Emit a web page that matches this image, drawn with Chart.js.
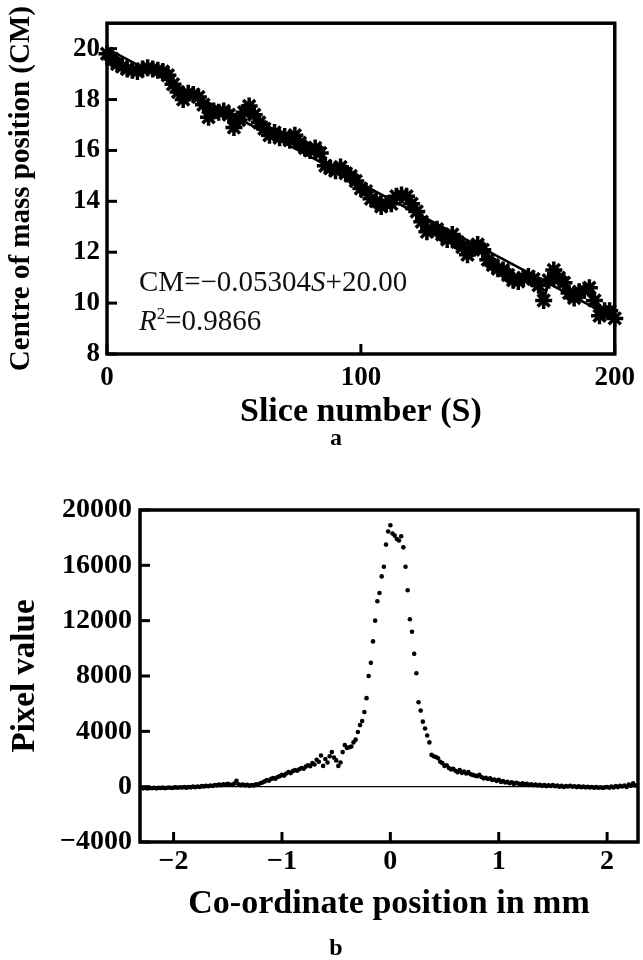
<!DOCTYPE html>
<html>
<head>
<meta charset="utf-8">
<script src="https://cdn.jsdelivr.net/npm/chart.js@4.4.1/dist/chart.umd.min.js"></script>
<style>
  html, body { margin: 0; padding: 0; background: #fff; }
  #page { position: relative; width: 643px; height: 960px; overflow: hidden; font-family: "Liberation Serif", "Times New Roman", serif; color: #000; }
  canvas { position: absolute; left: 0; }
  #chartA { top: 0; }
  #chartB { top: 480px; }
  .panel-label { position: absolute; width: 40px; margin-left: -20px; text-align: center; font-weight: bold; font-size: 24px; line-height: 24px; }
  .fit-text { position: absolute; left: 139px; font-size: 29px; line-height: 29px; white-space: nowrap; color: #111; }
  .fit-text sup { font-size: 17px; line-height: 0; vertical-align: 11px; }
</style>
</head>
<body>
<div id="page">
  <canvas id="chartA" width="643" height="480"></canvas>
  <canvas id="chartB" width="643" height="480"></canvas>
  <div class="fit-text" style="top:267px">CM=−0.05304<i>S</i>+20.00</div>
  <div class="fit-text" style="top:306px"><i>R</i><sup>2</sup>=0.9866</div>
  <div class="panel-label" style="left:336px; top:425px">a</div>
  <div class="panel-label" style="left:336px; top:935px">b</div>
</div>
<script>
// ---- panel a: centre of mass vs slice ----
const sliceNumbers = [
  0, 2, 4, 6, 8, 10, 12, 14, 16, 18,
  20, 22, 24, 26, 28, 30, 32, 34, 36, 38,
  40, 42, 44, 46, 48, 50, 52, 54, 56, 58,
  60, 62, 64, 66, 68, 70, 72, 74, 76, 78,
  80, 82, 84, 86, 88, 90, 92, 94, 96, 98,
  100, 102, 104, 106, 108, 110, 112, 114, 116, 118,
  120, 122, 124, 126, 128, 130, 132, 134, 136, 138,
  140, 142, 144, 146, 148, 150, 152, 154, 156, 158,
  160, 162, 164, 166, 168, 170, 172, 174, 176, 178,
  180, 182, 184, 186, 188, 190, 192, 194, 196, 198,
  200
];
const cmPosition = [
  19.8, 19.6, 19.4, 19.3, 19.2, 19.15, 19.1, 19.2, 19.25, 19.2,
  19.15, 19.1, 18.95, 18.6, 18.3, 18.0, 18.25, 18.2, 18.1, 17.8,
  17.3, 17.55, 17.5, 17.55, 17.4, 16.9, 17.2, 17.5, 17.75, 17.4,
  17.1, 16.85, 16.6, 16.7, 16.5, 16.55, 16.4, 16.6, 16.3, 16.1,
  16.0, 16.1, 15.9, 15.4, 15.3, 15.2, 15.35, 15.1, 15.0, 14.8,
  14.5, 14.4, 14.1, 14.0, 13.8, 13.9, 13.9, 14.2, 14.25, 14.2,
  13.9, 13.6, 13.2, 12.8, 12.9, 12.9, 12.7, 12.5, 12.7, 12.4,
  12.2, 11.9, 12.15, 12.3, 12.1, 11.7, 11.5, 11.35, 11.3, 11.1,
  10.9, 10.85, 11.0, 11.05, 10.95, 10.7, 10.1, 10.9, 11.3, 11.0,
  10.8, 10.4, 10.2, 10.45, 10.5, 10.6, 10.1, 9.5, 9.7, 9.7,
  9.4
];
const fitSlope = -0.05304;
const fitIntercept = 20.00;
const sliceTicks = [0, 100, 200];
const cmTicks = [8, 10, 12, 14, 16, 18, 20];

// ---- panel b: pixel profile ----
const positionMm = [
  -2.28, -2.26, -2.24, -2.22, -2.20, -2.18, -2.16, -2.14, -2.12, -2.10,
  -2.08, -2.06, -2.04, -2.02, -2.00, -1.98, -1.96, -1.94, -1.92, -1.90,
  -1.88, -1.86, -1.84, -1.82, -1.80, -1.78, -1.76, -1.74, -1.72, -1.70,
  -1.68, -1.66, -1.64, -1.62, -1.60, -1.58, -1.56, -1.54, -1.52, -1.50,
  -1.48, -1.46, -1.44, -1.42, -1.40, -1.38, -1.36, -1.34, -1.32, -1.30,
  -1.28, -1.26, -1.24, -1.22, -1.20, -1.18, -1.16, -1.14, -1.12, -1.10,
  -1.08, -1.06, -1.04, -1.02, -1.00, -0.98, -0.96, -0.94, -0.92, -0.90,
  -0.88, -0.86, -0.84, -0.82, -0.80, -0.78, -0.76, -0.74, -0.72, -0.70,
  -0.68, -0.66, -0.64, -0.62, -0.60, -0.58, -0.56, -0.54, -0.52, -0.50,
  -0.48, -0.46, -0.44, -0.42, -0.40, -0.38, -0.36, -0.34, -0.32, -0.30,
  -0.28, -0.26, -0.24, -0.22, -0.20, -0.18, -0.16, -0.14, -0.12, -0.10,
  -0.08, -0.06, -0.04, -0.02,
  0.00, 0.02, 0.04, 0.06, 0.08, 0.10, 0.12, 0.14, 0.16, 0.18,
  0.20, 0.22, 0.24, 0.26, 0.28, 0.30, 0.32, 0.34, 0.36, 0.38,
  0.40, 0.42, 0.44, 0.46, 0.48, 0.50, 0.52, 0.54, 0.56, 0.58,
  0.60, 0.62, 0.64, 0.66, 0.68, 0.70, 0.72, 0.74, 0.76, 0.78,
  0.80, 0.82, 0.84, 0.86, 0.88, 0.90, 0.92, 0.94, 0.96, 0.98,
  1.00, 1.02, 1.04, 1.06, 1.08, 1.10, 1.12, 1.14, 1.16, 1.18,
  1.20, 1.22, 1.24, 1.26, 1.28, 1.30, 1.32, 1.34, 1.36, 1.38,
  1.40, 1.42, 1.44, 1.46, 1.48, 1.50, 1.52, 1.54, 1.56, 1.58,
  1.60, 1.62, 1.64, 1.66, 1.68, 1.70, 1.72, 1.74, 1.76, 1.78,
  1.80, 1.82, 1.84, 1.86, 1.88, 1.90, 1.92, 1.94, 1.96, 1.98,
  2.00, 2.02, 2.04, 2.06, 2.08, 2.10, 2.12, 2.14, 2.16, 2.18,
  2.20, 2.22, 2.24, 2.26
];
const pixelValue = [
  -120, -100, -130, -90, -110, -80, -120, -90, -100, -70,
  -110, -80, -60, -100, -70, -50, -80, -40, -60, -30,
  -70, -20, -50, 0, -40, 10, -20, 40, 20, 60,
  30, 80, 50, 120, 90, 150, 110, 180, 130, 200,
  150, 120, 220, 420, 180, 110, 160, 90, 130, 60,
  120, 90, 180, 150, 250, 300, 380, 470, 430, 560,
  620, 580, 700, 760, 850, 800, 950, 1050, 980, 1120,
  1200, 1150, 1260, 1350, 1300, 1450, 1550, 1480, 1700, 1600,
  1950, 1800, 2250, 1500, 2000, 1750, 2200, 2500, 2100, 1900,
  1500, 1750, 2500, 3000, 2800, 2850, 2900, 3200, 3400, 3950,
  4450, 4750, 5400, 6400, 8000, 8950, 10500, 12000, 13400, 14000,
  15200, 15900, 17500, 18450,
  18900, 18300, 18150, 17900, 17800, 18100, 17300, 15900, 14200, 12100,
  11200, 9600, 8200, 6100, 5500, 4700, 4200, 3700, 3200, 2300,
  2200, 2150, 2050, 1800, 1700, 1500, 1550, 1350, 1250, 1300,
  1150, 1050, 1200, 1000, 1100, 950, 1050, 900, 850, 800,
  750, 850, 700, 600, 650, 550, 600, 480, 520, 420,
  500, 350, 400, 300, 350, 250, 320, 200, 280, 220,
  170, 240, 150, 200, 120, 180, 100, 150, 80, 130,
  60, 110, 40, 90, 50, 120, 30, 80, 0, 60,
  -20, 40, 10, 70, -10, 30, -30, 20, -40, 0,
  -50, -10, -60, -20, -70, -30, -80, -40, -90, -50,
  -20, -80, 0, -60, 40, -30, 60, 10, 80, -20,
  150, 60, 250, 80
];
const positionTicks = [-2, -1, 0, 1, 2];
const pixelTicks = [-4000, 0, 4000, 8000, 12000, 16000, 20000];

const serif = '"Liberation Serif", "Times New Roman", serif';
const minus = v => String(v).replace('-', '\u2212');

// box frame, inward tick marks and optional zero line
const framePlugin = {
  id: 'frame',
  beforeDatasetsDraw(chart, args, opts) {
    if (!opts.zeroLine) return;
    const {ctx, chartArea: a, scales} = chart;
    const y0 = scales.y.getPixelForValue(0);
    ctx.save();
    ctx.strokeStyle = '#000';
    ctx.lineWidth = 1.3;
    ctx.beginPath();
    ctx.moveTo(a.left, y0);
    ctx.lineTo(a.right, y0);
    ctx.stroke();
    ctx.restore();
  },
  afterDatasetsDraw(chart, args, opts) {
    const {ctx, chartArea: a, scales} = chart;
    const len = opts.tickLength || 10;
    ctx.save();
    ctx.strokeStyle = '#000';
    ctx.lineWidth = 3.5;
    ctx.strokeRect(a.left, a.top, a.right - a.left, a.bottom - a.top);
    ctx.lineWidth = 3;
    scales.x.ticks.forEach(t => {
      const x = scales.x.getPixelForValue(t.value);
      ctx.beginPath();
      ctx.moveTo(x, a.bottom);
      ctx.lineTo(x, a.bottom - len);
      ctx.stroke();
    });
    scales.y.ticks.forEach(t => {
      const y = scales.y.getPixelForValue(t.value);
      ctx.beginPath();
      ctx.moveTo(a.left, y);
      ctx.lineTo(a.left + len, y);
      ctx.stroke();
    });
    ctx.restore();
  }
};

const hidden = { display: false, drawTicks: false };

new Chart(document.getElementById('chartA'), {
  type: 'scatter',
  data: {
    datasets: [{
      data: sliceNumbers.map((s, i) => ({ x: s, y: cmPosition[i] })),
      showLine: true,
      borderColor: '#000',
      borderWidth: 3,
      pointStyle: 'star',
      pointRadius: 8.5,
      pointBorderWidth: 3.5,
      pointBorderColor: '#000',
      pointBackgroundColor: '#000',
      clip: false
    }, {
      data: [sliceTicks[0], sliceTicks[sliceTicks.length - 1]].map(s => ({ x: s, y: fitIntercept + fitSlope * s })),
      showLine: true,
      borderColor: '#000',
      borderWidth: 2.5,
      pointRadius: 0
    }]
  },
  options: {
    responsive: false,
    animation: false,
    layout: { padding: { top: 15, right: 22, left: 0, bottom: 0 } },
    plugins: { legend: { display: false }, tooltip: { enabled: false }, frame: { tickLength: 10 } },
    scales: {
      x: {
        type: 'linear', min: 0, max: 200,
        afterBuildTicks: s => { s.ticks = sliceTicks.map(v => ({ value: v })); },
        afterFit: s => { s.height = 126; },
        grid: hidden, border: { display: false },
        ticks: { color: '#000', padding: 8, font: { family: serif, size: 27, weight: 'bold' }, maxRotation: 0, callback: minus },
        title: { display: true, text: 'Slice number (S)', color: '#000', padding: { top: 0, bottom: 47 }, font: { family: serif, size: 34, weight: 'bold' } }
      },
      y: {
        type: 'linear', min: 8, max: 21,
        afterBuildTicks: s => { s.ticks = cmTicks.map(v => ({ value: v })); },
        afterFit: s => { s.width = 107; },
        grid: hidden, border: { display: false },
        ticks: { color: '#000', padding: 7, font: { family: serif, size: 27, weight: 'bold' }, callback: minus },
        title: { display: true, text: 'Centre of mass position (CM)', color: '#000', padding: { top: 4, bottom: 0 }, font: { family: serif, size: 29, weight: 'bold' } }
      }
    }
  },
  plugins: [framePlugin]
});

new Chart(document.getElementById('chartB'), {
  type: 'scatter',
  data: {
    datasets: [{
      data: positionMm.map((p, i) => ({ x: p, y: pixelValue[i] })),
      pointStyle: 'circle',
      pointRadius: 2.3,
      pointBorderWidth: 0,
      pointBackgroundColor: '#000'
    }]
  },
  options: {
    responsive: false,
    animation: false,
    layout: { padding: { top: 30, right: 5, left: 0, bottom: 0 } },
    plugins: { legend: { display: false }, tooltip: { enabled: false }, frame: { tickLength: 10, zeroLine: true } },
    scales: {
      x: {
        type: 'linear', min: -2.31, max: 2.285,
        afterBuildTicks: s => { s.ticks = positionTicks.map(v => ({ value: v })); },
        afterFit: s => { s.height = 118; },
        grid: hidden, border: { display: false },
        ticks: { color: '#000', padding: 3, font: { family: serif, size: 28, weight: 'bold' }, maxRotation: 0, callback: minus },
        title: { display: true, text: 'Co-ordinate position in mm', color: '#000', padding: { top: 0, bottom: 35 }, font: { family: serif, size: 34, weight: 'bold' } }
      },
      y: {
        type: 'linear', min: -4000, max: 20000,
        afterBuildTicks: s => { s.ticks = pixelTicks.map(v => ({ value: v })); },
        afterFit: s => { s.width = 140; },
        grid: hidden, border: { display: false },
        ticks: { color: '#000', padding: 8, font: { family: serif, size: 28, weight: 'bold' }, callback: minus },
        title: { display: true, text: 'Pixel value', color: '#000', padding: { top: 6, bottom: 0 }, font: { family: serif, size: 33, weight: 'bold' } }
      }
    }
  },
  plugins: [framePlugin]
});
</script>
</body>
</html>
